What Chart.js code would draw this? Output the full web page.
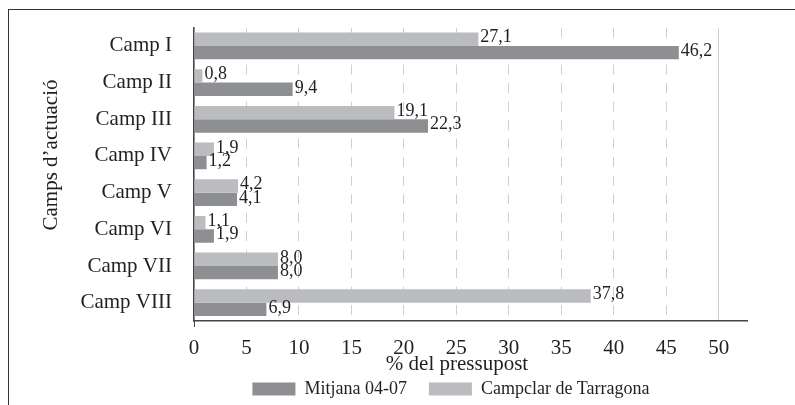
<!DOCTYPE html>
<html>
<head>
<meta charset="utf-8">
<script src="https://cdn.jsdelivr.net/npm/chart.js@4.4.1/dist/chart.umd.min.js"></script>
<style>
  html, body { margin: 0; padding: 0; background: #fff; overflow: hidden; }
  #wrap { position: relative; width: 795px; height: 405px; }
  #frame {
    position: absolute; left: 8px; top: 9px; width: 900px; height: 500px;
    border-left: 1px solid #333; border-top: 1px solid #333;
  }
  canvas { position: absolute; left: 0; top: 0; }
</style>
</head>
<body>
<div id="wrap">
  <div id="frame"></div>
  <canvas id="campsChart" width="795" height="405"></canvas>
</div>
<script>
const camps = [
  "Camp I",
  "Camp II",
  "Camp III",
  "Camp IV",
  "Camp V",
  "Camp VI",
  "Camp VII",
  "Camp VIII",
];
const campclar = [27.1, 0.8, 19.1, 1.9, 4.2, 1.1, 8.0, 37.8];
const mitjana = [46.2, 9.4, 22.3, 1.2, 4.1, 1.9, 8.0, 6.9];

const textColor = "#231f20";
const serif = "'Liberation Serif', 'Times New Roman', serif";

// value labels next to each bar, with a decimal comma
const valueLabels = {
  id: "valueLabels",
  afterDatasetsDraw(chart) {
    const c = chart.ctx;
    c.save();
    c.font = "18px " + serif;
    c.fillStyle = textColor;
    c.textAlign = "left";
    c.textBaseline = "middle";
    chart.data.datasets.forEach((ds, i) => {
      chart.getDatasetMeta(i).data.forEach((bar, j) => {
        const txt = ds.data[j].toFixed(1).replace(".", ",");
        c.fillText(txt, bar.x + 2, bar.y - 1.5);
      });
    });
    c.restore();
  },
};

// axis titles placed like the original
const axisTitles = {
  id: "axisTitles",
  afterLayout(chart) {
    // the legend sits a bit right of the canvas centre
    if (chart.legend) {
      chart.legend.left += 40;
      chart.legend.right += 40;
    }
  },
  afterDraw(chart) {
    const c = chart.ctx;
    c.save();
    c.font = "21px " + serif;
    c.fillStyle = textColor;
    c.textAlign = "center";
    c.textBaseline = "alphabetic";
    c.fillText("% del pressupost", 457, 370);
    c.translate(57, 155);
    c.rotate(-Math.PI / 2);
    c.fillText("Camps d\u2019actuació", 0, 0);
    c.restore();
  },
};

var ctx = document.getElementById("campsChart").getContext("2d");
var campsChart = new Chart(ctx, {
  type: "bar",
  data: {
    labels: camps,
    datasets: [
      {
        label: "Campclar de Tarragona",
        data: campclar,
        backgroundColor: "#bbbcbf",
        borderWidth: 0,
      },
      {
        label: "Mitjana 04-07",
        data: mitjana,
        backgroundColor: "#8e8f93",
        borderWidth: 0,
      },
    ],
  },
  options: {
    indexAxis: "y",
    responsive: false,
    animation: false,
    datasets: {
      bar: { categoryPercentage: 0.73, barPercentage: 1 },
    },
    layout: {
      padding: { left: 75, right: 48, top: 27.6, bottom: -3 },
    },
    scales: {
      x: {
        min: 0,
        max: 52.7,
        afterFit: (scale) => { scale.height = 37; },
        ticks: {
          stepSize: 5,
          includeBounds: false,
          padding: 9,
          color: textColor,
          font: { family: serif, size: 21 },
        },
        grid: {
          color: (c) => (c.tick && c.tick.value > 0 ? "#cfcfcf" : "rgba(0,0,0,0)"),
          lineWidth: 1,
          drawTicks: true,
          tickLength: 6,
          tickColor: (c) => (c.tick && c.tick.value === 0 ? "#444" : "rgba(0,0,0,0)"),
        },
        border: {
          color: "#444",
          width: 1.6,
          dash: (c) => (c.tick && c.tick.value > 0 && c.tick.value < 50 ? [10, 8.5] : []),
        },
      },
      y: {
        afterFit: (scale) => { scale.width = 119; },
        ticks: {
          padding: 11,
          color: textColor,
          font: { family: serif, size: 21 },
        },
        grid: {
          offset: true,
          drawOnChartArea: false,
          drawTicks: true,
          tickLength: 11,
          tickColor: (c) => (c.index === 8 ? "#444" : "rgba(0,0,0,0)"),
        },
        border: { color: "#444", width: 1.6 },
      },
    },
    plugins: {
      legend: {
        display: true,
        position: "bottom",
        reverse: true,
        labels: {
          boxWidth: 43,
          boxHeight: 13,
          padding: 22,
          color: textColor,
          font: { family: serif, size: 18 },
        },
      },
      tooltip: { enabled: false },
    },
  },
  plugins: [valueLabels, axisTitles],
});
</script>
</body>
</html>
